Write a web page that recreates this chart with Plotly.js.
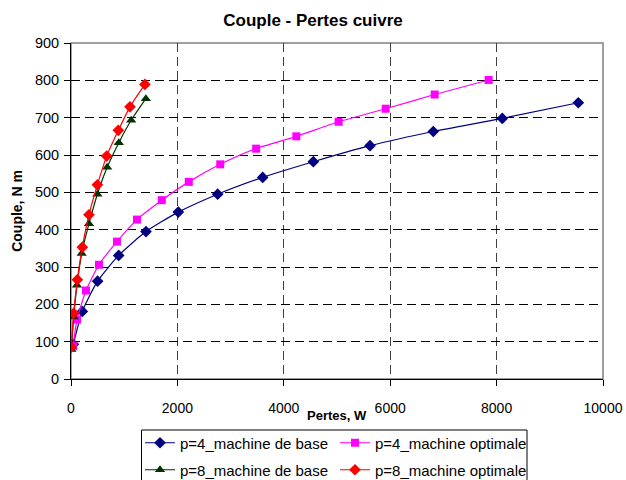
<!DOCTYPE html>
<html>
<head>
<meta charset="utf-8">
<script src="https://cdn.plot.ly/plotly-3.0.1.min.js"></script>
<style>html,body{margin:0;padding:0;background:#fff;}#chart{width:626px;height:480px;}</style>
</head>
<body>
<div id="chart"></div>
<script>
// Data
const seriesNames = ["p=4_machine de base", "p=4_machine optimale", "p=8_machine de base", "p=8_machine optimale"];

const p4BaseX = [43, 213, 500, 896, 1410, 2017, 2757, 3603, 4555, 5620, 6810, 8107, 9536];
const p4BaseY = [93, 181, 262, 331, 395, 447, 495, 540, 582, 625, 663, 698, 740];

const p4OptX = [40, 113, 282, 526, 864, 1240, 1707, 2214, 2805, 3481, 4236, 5030, 5915, 6836, 7850];
const p4OptY = [88, 159, 237, 306, 368, 427, 479, 528, 575, 617, 650, 689, 724, 762, 801];

const p8BaseX = [7, 50, 113, 201, 338, 496, 680, 899, 1131, 1407];
const p8BaseY = [79, 166, 251, 336, 416, 495, 567, 633, 693, 751];

const p8OptX = [7, 50, 120, 213, 338, 496, 671, 890, 1109, 1389];
const p8OptY = [85, 176, 266, 353, 440, 520, 597, 666, 729, 789];

const FONT = "Liberation Sans, Arial, sans-serif";

function tr(name, x, y, color, symbol, size, legendId) {
  return {
    type: "scatter", mode: "lines+markers", name: name, x: x, y: y, legend: legendId,
    line: {color: color, width: 1.2, shape: "spline", smoothing: 0.6},
    marker: {color: color, symbol: symbol, size: size, line: {width: 0}}
  };
}

const data = [
  tr(seriesNames[0], p4BaseX, p4BaseY, "#000080", "diamond", 9, "legend"),
  tr(seriesNames[1], p4OptX, p4OptY, "#FF00FF", "square", 8, "legend"),
  tr(seriesNames[2], p8BaseX, p8BaseY, "#003300", "triangle-up", 9, "legend2"),
  tr(seriesNames[3], p8OptX, p8OptY, "#FF0000", "diamond", 9, "legend2")
];

function leg(yc) {
  return {
    orientation: "h", xref: "container", yref: "container",
    x: 140 / 626, xanchor: "left", y: 1 - yc / 480, yanchor: "middle",
    borderwidth: 0, bgcolor: "rgba(0,0,0,0)",
    entrywidth: 150, entrywidthmode: "pixels", itemwidth: 30,
    font: {family: FONT, size: 15, color: "#000"}
  };
}

const layout = {
  width: 626, height: 480,
  paper_bgcolor: "#fff", plot_bgcolor: "#fff",
  margin: {l: 71, r: 23, t: 43, b: 101, autoexpand: false},
  font: {family: FONT, size: 14, color: "#000"},
  title: {text: "<b>Couple - Pertes cuivre</b>", x: 0.5, xref: "container", xanchor: "center",
          y: 1 - 20 / 480, yref: "container", yanchor: "middle",
          font: {family: FONT, size: 17, color: "#000"}},
  showlegend: true,
  legend: leg(443),
  legend2: leg(470),
  xaxis: {
    range: [0, 10000], dtick: 2000, tick0: 0, tickformat: "d",
    showgrid: true, gridcolor: "#404040", griddash: "9px,5px", gridwidth: 1,
    showline: true, linecolor: "#000", linewidth: 1,
    ticks: "outside", ticklen: 6, tickcolor: "#000", ticklabelstandoff: 10,
    zeroline: false, tickfont: {family: FONT, size: 14, color: "#000"}
  },
  yaxis: {
    range: [0, 900], dtick: 100, tick0: 0,
    showgrid: true, gridcolor: "#000", griddash: "9px,5px", gridwidth: 1,
    showline: true, linecolor: "#000", linewidth: 1,
    ticks: "outside", ticklen: 6, tickcolor: "#000", ticklabelstandoff: 2,
    zeroline: false, tickfont: {family: FONT, size: 14.5, color: "#000"},
    title: {text: "<b>Couple, N m</b>", font: {family: FONT, size: 14, color: "#000"}, standoff: 8}
  },
  annotations: [{
    text: "<b>Pertes, W</b>", xref: "paper", yref: "paper", x: 0.5, y: (379 - 415) / 336,
    xanchor: "center", yanchor: "middle", showarrow: false,
    font: {family: FONT, size: 13, color: "#000"}
  }],
  shapes: [
    {type: "rect", xref: "paper", yref: "paper", x0: 0, x1: 1, y0: 0, y1: 1,
     line: {color: "#808080", width: 1.5}, layer: "below"},
    {type: "rect", xref: "paper", yref: "paper",
     x0: (141.5 - 71) / 532, x1: (527 - 71) / 532,
     y0: (379 - 486) / 336, y1: (379 - 430) / 336,
     line: {color: "#000", width: 1}, layer: "above"}
  ]
};

Plotly.newPlot("chart", data, layout, {staticPlot: true, displayModeBar: false});
</script>
</body>
</html>
